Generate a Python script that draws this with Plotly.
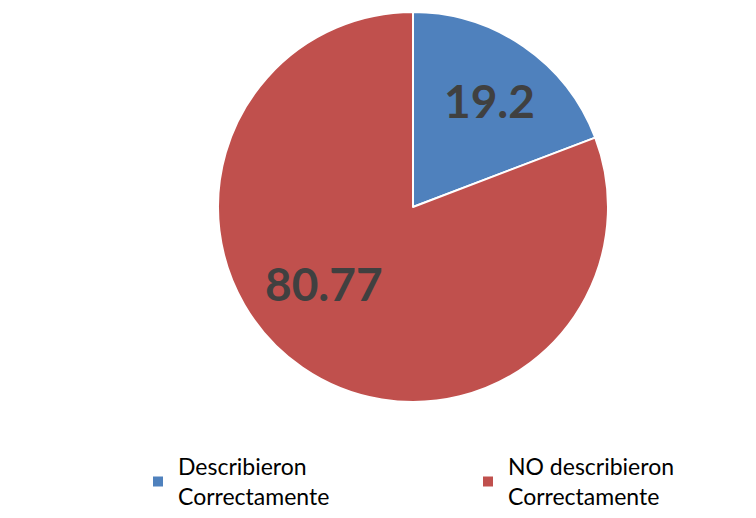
import plotly.graph_objects as go

categories = ["Describieron<br>Correctamente", "NO describieron<br>Correctamente"]
values = [19.2, 80.77]
colors = ["#4F81BD", "#C0504D"]

W, H = 756, 518
cx, cy, r = 413, 207, 195
label_px = [(489, 101), (324, 283)]

fig = go.Figure(go.Pie(
    labels=categories,
    values=values,
    sort=False,
    direction="clockwise",
    rotation=0,
    marker=dict(colors=colors, line=dict(color="white", width=2)),
    textinfo="none",
    domain=dict(x=[(cx - r) / W, (cx + r) / W], y=[1 - (cy + r) / H, 1 - (cy - r) / H]),
    hoverinfo="label+value",
))

for v, (px, py) in zip(values, label_px):
    fig.add_annotation(
        x=px / W, y=1 - py / H, xref="paper", yref="paper",
        text=f"{v:g}", showarrow=False,
        font=dict(family="Lato", size=46, color="#404040", weight="bold"),
        xanchor="center", yanchor="middle",
    )

fig.update_layout(
    width=W, height=H,
    margin=dict(l=0, r=0, t=0, b=0, autoexpand=False),
    paper_bgcolor="white",
    plot_bgcolor="white",
    showlegend=True,
    legend=dict(
        orientation="h",
        x=138 / W, xanchor="left",
        y=1 - 445 / H, yanchor="top",
        font=dict(family="Lato", size=23, color="#000000"),
        entrywidth=285,
        itemclick=False,
        bgcolor="rgba(0,0,0,0)",
    ),
)

fig.write_html("out.html")
